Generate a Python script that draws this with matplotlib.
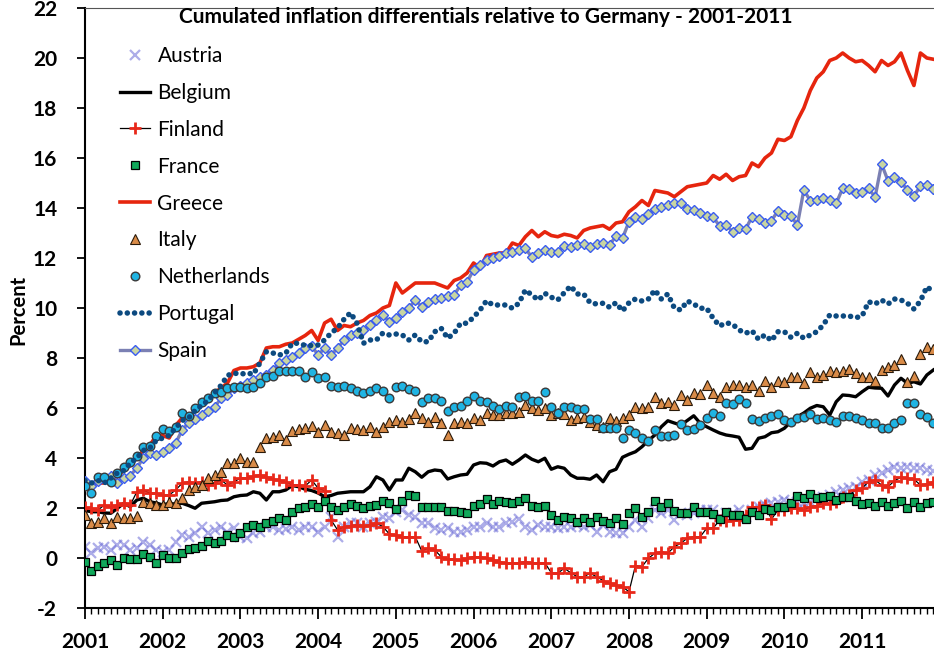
import numpy as np
import matplotlib
matplotlib.use('Agg')
import matplotlib.pyplot as plt
from matplotlib.ticker import MultipleLocator

plt.rcParams['font.family'] = ['Lato', 'DejaVu Sans']
plt.rcParams['axes.unicode_minus'] = False

# maand-index 0 = jan 2001 ... 131 = dec 2011
months = np.arange(132)
years = ['2001', '2002', '2003', '2004', '2005', '2006', '2007', '2008', '2009', '2010', '2011']

austria = [0.45, 0.19, 0.39, 0.45, 0.32, 0.52, 0.52, 0.32, 0.39, 0.65,
           0.52, 0.32, 0.25, 0.32, 0.65, 0.92, 0.85, 0.99, 1.25, 0.99,
           1.12, 1.25, 1.05, 1.19, 0.85, 0.79, 0.99, 1.05, 1.25, 1.25,
           1.12, 1.15, 1.25, 1.12, 1.25, 1.25, 1.05, 1.25, 1.65, 0.85,
           1.25, 1.39, 1.39, 1.25, 1.39, 1.45, 1.65, 1.59, 1.85, 1.92,
           1.72, 1.65, 1.39, 1.39, 1.19, 1.12, 1.19, 1.05, 1.05, 1.12,
           1.25, 1.25, 1.39, 1.25, 1.25, 1.39, 1.45, 1.55, 1.25, 1.12,
           1.32, 1.25, 1.25, 1.19, 1.25, 1.25, 1.32, 1.25, 1.32, 1.05,
           1.32, 1.05, 0.99, 0.99, 1.25, 1.52, 1.25, 1.6, 1.92, 1.79,
           1.92, 1.52, 1.79, 1.72, 1.79, 1.92, 1.92, 1.92, 1.65, 1.79,
           1.79, 1.92, 1.65, 1.92, 2.05, 2.12, 2.19, 2.25, 2.32, 2.25,
           2.25, 2.19, 2.25, 2.39, 2.45, 2.52, 2.65, 2.72, 2.79, 2.85,
           3.05, 3.12, 3.32, 3.39, 3.52, 3.65, 3.59, 3.65, 3.59, 3.59,
           3.52, 3.5]

belgium = [1.9, 1.85, 1.85, 1.8, 1.79, 1.99, 2.19, 2.05, 2.32, 2.39,
           2.25, 2.2, 2.12, 2.19, 2.15, 2.19, 2.1, 1.99, 2.19, 2.22,
           2.25, 2.3, 2.32, 2.45, 2.5, 2.52, 2.65, 2.59, 2.32, 2.65,
           2.65, 2.72, 2.9, 2.85, 2.75, 2.7, 2.6, 2.45, 2.5, 2.59,
           2.62, 2.65, 2.65, 2.65, 2.85, 3.25, 3.12, 2.72, 3.12, 3.12,
           3.59, 3.45, 3.23, 3.45, 3.52, 3.49, 3.16, 3.25, 3.32, 3.35,
           3.72, 3.81, 3.79, 3.68, 3.85, 3.92, 3.75, 3.92, 4.12, 3.95,
           3.85, 3.99, 3.55, 3.65, 3.59, 3.32, 3.19, 3.19, 3.15, 3.32,
           3.05, 3.45, 3.55, 4.03, 4.15, 4.25, 4.45, 4.7, 4.92, 5.25,
           5.49, 5.4, 5.32, 5.5, 5.69, 5.39, 5.25, 5.12, 5.0, 4.92,
           4.88, 4.83, 4.35, 4.39, 4.79, 4.85, 5.01, 5.05, 5.19, 5.45,
           5.65, 5.8, 5.99, 6.1, 6.05, 5.72, 6.25, 6.52, 6.5, 6.45,
           6.65, 6.83, 6.8, 6.79, 6.48, 6.92, 7.19, 6.99, 7.05, 6.96,
           7.32, 7.52]

finland = [2.03, 1.99, 1.92, 2.12, 2.05, 2.12, 2.19, 2.12, 2.65, 2.72,
           2.59, 2.59, 2.52, 2.52, 2.72, 2.99, 3.05, 2.99, 3.05, 2.92,
           2.99, 3.12, 2.92, 3.05, 3.19, 3.19, 3.28, 3.32, 3.25, 3.15,
           3.12, 3.05, 2.92, 2.92, 2.88, 3.12, 2.79, 2.69, 1.52, 1.12,
           1.25, 1.28, 1.32, 1.28, 1.32, 1.41, 1.25, 0.96, 0.92, 0.85,
           0.85, 0.85, 0.28, 0.39, 0.32, 0.05, -0.05, -0.05, -0.08, -0.01,
           0.05, 0.05, -0.01, -0.08, -0.15, -0.21, -0.21, -0.19, -0.15, -0.19,
           -0.19, -0.19, -0.59, -0.61, -0.41, -0.59, -0.75, -0.75, -0.61, -0.75,
           -0.9, -1.01, -1.08, -1.15, -1.35, -0.3, -0.35, -0.01, 0.19, 0.25,
           0.19, 0.45, 0.59, 0.79, 0.85, 0.85, 1.19, 1.19, 1.52, 1.5,
           1.52, 1.52, 1.72, 2.03, 2.03, 2.12, 1.55, 1.92, 1.92, 1.99,
           1.99, 1.92, 2.05, 2.09, 2.19, 2.15, 2.25, 2.43, 2.52, 2.72,
           2.79, 3.05, 3.12, 2.92, 2.85, 3.09, 3.23, 3.19, 3.15, 2.92,
           2.96, 3.05]

france = [-0.16, -0.52, -0.31, -0.19, -0.06, -0.28, -0.01, -0.05, -0.05, 0.16,
          0.05, -0.2, 0.13, -0.01, -0.01, 0.21, 0.38, 0.39, 0.48, 0.67,
          0.61, 0.67, 0.92, 0.83, 1.01, 1.25, 1.32, 1.23, 1.39, 1.49,
          1.59, 1.52, 1.85, 1.99, 2.03, 2.16, 2.05, 2.29, 2.05, 1.92,
          2.05, 2.16, 2.08, 1.99, 2.08, 2.12, 2.29, 2.19, 1.95, 2.29,
          2.52, 2.48, 2.05, 2.03, 2.05, 2.05, 1.89, 1.89, 1.85, 1.81,
          2.08, 2.16, 2.35, 2.16, 2.29, 2.25, 2.19, 2.29, 2.39, 2.08,
          2.03, 2.08, 1.72, 1.52, 1.63, 1.59, 1.45, 1.59, 1.45, 1.63,
          1.5, 1.41, 1.59, 1.36, 1.81, 1.99, 1.65, 1.85, 2.29, 2.05,
          2.19, 1.89, 1.81, 1.81, 2.05, 1.85, 1.85, 1.75, 1.55, 1.85,
          1.72, 1.72, 1.55, 1.85, 1.72, 1.95, 1.92, 2.03, 2.03, 2.19,
          2.48, 2.39, 2.56, 2.39, 2.45, 2.48, 2.32, 2.43, 2.45, 2.29,
          2.16, 2.19, 2.09, 2.25, 2.09, 2.19, 2.29, 1.99, 2.25, 2.03,
          2.19, 2.25]

greece = [3.0, 2.9, 3.0, 3.0, 3.1, 3.3, 3.5, 3.7, 4.0, 4.3,
          4.5, 4.9, 4.9, 4.8, 5.3, 5.6, 5.6, 5.9, 6.1, 6.3,
          6.6, 6.8, 7.0, 7.5, 7.6, 7.6, 7.65, 7.8, 8.4, 8.45,
          8.45, 8.55, 8.6, 8.75, 8.9, 9.1, 8.7, 9.4, 9.55, 9.1,
          9.3, 9.25, 9.4, 9.5, 9.7, 9.8, 10.0, 10.1, 11.0, 10.6,
          10.8, 11.0, 11.0, 11.0, 11.0, 10.9, 10.8, 11.1, 11.2, 11.4,
          11.8, 11.6, 12.1, 12.15, 12.2, 12.2, 12.6, 12.5, 12.85, 13.1,
          12.85, 13.05, 12.9, 12.85, 12.95, 12.9, 12.8, 13.1, 13.2, 13.25,
          13.3, 13.15, 13.4, 13.45, 13.85, 14.05, 14.3, 14.1, 14.7, 14.65,
          14.6, 14.45, 14.65, 14.85, 14.9, 14.95, 15.0, 15.3, 15.15, 15.35,
          15.1, 15.25, 15.3, 15.8, 15.65, 16.0, 16.2, 16.75, 16.7, 16.85,
          17.5, 18.0, 18.7, 19.2, 19.45, 19.9, 20.0, 20.2, 20.0, 19.85,
          19.9, 19.7, 19.45, 19.9, 19.7, 19.85, 20.2, 19.5, 18.9, 20.2,
          20.0, 19.95]

italy = [1.72, 1.41, 1.45, 1.59, 1.39, 1.65, 1.59, 1.59, 1.68, 2.25,
         2.19, 2.12, 2.12, 2.25, 2.19, 2.39, 2.72, 2.85, 2.92, 3.19,
         3.32, 3.45, 3.81, 3.81, 3.99, 3.85, 3.85, 4.45, 4.79, 4.85,
         4.92, 4.72, 5.09, 5.15, 5.19, 5.28, 5.05, 5.32, 5.03, 4.99,
         4.92, 5.19, 5.15, 5.12, 5.25, 5.03, 5.25, 5.45, 5.52, 5.45,
         5.55, 5.79, 5.59, 5.45, 5.65, 5.39, 4.92, 5.39, 5.45, 5.39,
         5.59, 5.52, 5.79, 5.72, 5.72, 5.79, 5.79, 5.85, 6.12, 5.99,
         5.92, 5.99, 5.72, 5.8, 5.75, 5.52, 5.59, 5.65, 5.45, 5.32,
         5.25, 5.59, 5.5, 5.6, 5.72, 6.05, 5.99, 6.05, 6.45, 6.19,
         6.25, 6.12, 6.52, 6.32, 6.61, 6.55, 6.92, 6.61, 6.45, 6.85,
         6.92, 6.92, 6.85, 6.92, 6.69, 7.09, 6.85, 7.09, 7.05, 7.23,
         7.23, 6.99, 7.45, 7.25, 7.32, 7.49, 7.45, 7.49, 7.55, 7.41,
         7.25, 7.25, 7.09, 7.52, 7.63, 7.72, 7.95, 7.05, 7.28, 8.16,
         8.43, 8.35]

netherlands = [2.9, 2.6, 3.25, 3.25, 3.05, 3.4, 3.65, 3.85, 4.1, 4.45,
               4.5, 4.9, 5.15, 5.1, 5.25, 5.8, 5.7, 6.0, 6.25, 6.4,
               6.6, 6.65, 6.8, 6.85, 6.85, 6.8, 6.85, 7.0, 7.25, 7.3,
               7.5, 7.5, 7.5, 7.5, 7.25, 7.45, 7.2, 7.25, 6.9, 6.85,
               6.9, 6.8, 6.7, 6.6, 6.7, 6.8, 6.7, 6.4, 6.85, 6.9,
               6.75, 6.7, 6.25, 6.4, 6.4, 6.3, 5.9, 6.05, 6.1, 6.3,
               6.5, 6.3, 6.25, 6.1, 5.95, 6.1, 6.05, 6.45, 6.5, 6.3,
               6.3, 6.65, 6.05, 5.8, 6.05, 6.05, 5.95, 5.95, 5.55, 5.55,
               5.2, 5.19, 5.19, 4.79, 5.12, 4.99, 4.79, 4.69, 5.12, 4.88,
               4.88, 4.92, 5.35, 5.12, 5.15, 5.32, 5.59, 5.81, 5.69, 6.19,
               6.15, 6.35, 6.19, 5.55, 5.49, 5.59, 5.69, 5.76, 5.52, 5.43,
               5.59, 5.63, 5.76, 5.55, 5.59, 5.52, 5.43, 5.69, 5.69, 5.59,
               5.52, 5.39, 5.39, 5.19, 5.19, 5.39, 5.52, 6.19, 6.21, 5.76,
               5.65, 5.39]

portugal = [3.1, 3.0, 3.1, 3.0, 3.2, 3.4, 3.5, 3.8, 4.0, 4.3,
            4.4, 4.7, 4.8, 4.9, 5.2, 5.5, 5.6, 5.9, 6.1, 6.3,
            6.6, 6.9, 7.3, 7.4, 7.35, 7.4, 7.35, 7.8, 8.25, 8.2,
            8.12, 8.19, 8.59, 8.59, 8.5, 8.5, 8.52, 8.72, 9.0, 9.2,
            9.55, 9.81, 9.39, 8.59, 8.72, 8.72, 9.0, 8.92, 8.96, 8.92,
            8.72, 8.92, 8.65, 8.65, 9.05, 9.19, 8.79, 8.99, 9.39, 9.39,
            9.63, 9.92, 10.29, 10.12, 10.12, 10.12, 9.99, 10.19, 10.72, 10.52,
            10.32, 10.59, 10.43, 10.32, 10.61, 10.88, 10.56, 10.56, 10.21, 10.16,
            10.19, 10.03, 10.21, 9.88, 10.21, 10.36, 10.28, 10.36, 10.72, 10.36,
            10.56, 10.0, 9.92, 10.28, 10.16, 9.99, 9.99, 9.59, 9.28, 9.41,
            9.35, 9.12, 8.99, 9.09, 8.75, 8.92, 8.69, 9.05, 9.05, 8.83,
            8.99, 8.79, 8.92, 9.05, 9.32, 9.72, 9.68, 9.68, 9.68, 9.61,
            9.68, 10.25, 10.16, 10.32, 10.16, 10.36, 10.32, 10.19, 9.96, 10.28,
            10.85, 10.65]

spain = [3.1, 2.9, 3.1, 3.2, 3.3, 3.0, 3.2, 3.3, 3.6, 4.0,
         4.19, 4.12, 4.25, 4.39, 4.59, 5.12, 5.4, 5.55, 5.72, 5.9,
         6.03, 6.39, 6.52, 6.79, 6.9, 6.99, 7.12, 7.25, 7.32, 7.52,
         7.8, 7.92, 8.05, 8.19, 8.39, 8.48, 8.12, 8.39, 8.12, 8.39,
         8.72, 8.92, 8.99, 9.12, 9.32, 9.52, 9.72, 9.45, 9.59, 9.85,
         9.99, 10.32, 10.05, 10.25, 10.35, 10.39, 10.48, 10.52, 10.92, 11.05,
         11.52, 11.72, 11.92, 11.99, 12.08, 12.19, 12.25, 12.32, 12.39, 12.03,
         12.19, 12.32, 12.25, 12.25, 12.48, 12.45, 12.52, 12.56, 12.45, 12.56,
         12.59, 12.52, 12.88, 12.79, 13.45, 13.65, 13.55, 13.76, 13.95, 14.03,
         14.12, 14.19, 14.19, 13.95, 13.92, 13.79, 13.68, 13.63, 13.28, 13.32,
         13.05, 13.19, 13.15, 13.65, 13.55, 13.41, 13.49, 13.89, 13.72, 13.68,
         13.32, 14.72, 14.29, 14.32, 14.39, 14.32, 14.19, 14.79, 14.75, 14.59,
         14.65, 14.79, 14.43, 15.76, 15.09, 15.23, 15.05, 14.72, 14.48, 14.88,
         14.92, 14.75]

for s in [austria, belgium, finland, france, greece, italy, netherlands, portugal, spain]:
    assert len(s) == 132, len(s)

fig = plt.figure(figsize=(9.34, 6.57), dpi=100)
ax = fig.add_axes([85/934, 49/657, 849/934, 600/657])

# reeksen, volgorde zoals de legenda
h_aut, = ax.plot(months, austria, ls='none', marker='x', ms=6.5, mew=1.6,
                 color='#6b6bd6', alpha=0.55, zorder=2, label='Austria')
h_bel, = ax.plot(months, belgium, color='black', lw=2.4, zorder=3, label='Belgium')
h_fin, = ax.plot(months, finland, color='black', lw=0.9, marker='+', ms=8, mew=2,
                 mec='#e8281a', zorder=4, label='Finland')
h_fra, = ax.plot(months, france, ls='none', marker='s', ms=5.2, mfc='#10a85a',
                 mec='black', mew=0.9, zorder=5, label='France')
h_gre, = ax.plot(months, greece, color='#e6250e', lw=2.6, zorder=6, label='Greece')
h_ita, = ax.plot(months, italy, ls='none', marker='^', ms=7, mfc='#d98b48',
                 mec='#2a1a0a', mew=0.8, zorder=7, label='Italy')
h_spa, = ax.plot(months, spain, color='#7b80b3', lw=2.4, marker='D', ms=5.3,
                 mfc='#c8d5a2', mec='#3a5cf0', mew=1.0, zorder=8, label='Spain')
h_ned, = ax.plot(months, netherlands, ls='none', marker='o', ms=6.2, mfc='#1fb4e3',
                 mec='#3a3a3a', mew=1.0, zorder=9, label='Netherlands')
h_por, = ax.plot(months, portugal, color='#0c4a80', lw=4.0, ls=(0, (0.01, 1.3)),
                 dash_capstyle='round', zorder=10, label='Portugal')

ax.set_xlim(0, 131.1)
ax.set_ylim(-2, 22)
ax.set_yticks(range(-2, 23, 2))
ax.set_xticks(range(0, 132, 12))
ax.set_xticklabels(years)
ax.xaxis.set_minor_locator(MultipleLocator(1))

ax.tick_params(axis='x', which='major', direction='out', length=8, width=1.3, pad=9)
ax.tick_params(axis='x', which='minor', direction='out', length=4, width=1.0)
ax.tick_params(axis='y', which='major', direction='out', length=6, width=1.3, pad=14)
for lab in ax.get_xticklabels() + ax.get_yticklabels():
    lab.set_fontsize(15)
    lab.set_fontweight('bold')

for side in ['left', 'bottom']:
    ax.spines[side].set_linewidth(1.5)
ax.spines['top'].set_linewidth(0.8)
ax.spines['top'].set_color('#555555')
ax.spines['right'].set_visible(False)

fig.text(486/934, 1 - 17/657, 'Cumulated inflation differentials relative to Germany - 2001-2011',
         ha='center', va='center', fontsize=15, fontweight='bold')
fig.text(18/934, 1 - 310/657, 'Percent', rotation=90, ha='center', va='center',
         fontsize=14.5, fontweight='bold')

handles = [h_aut, h_bel, h_fin, h_fra, h_gre, h_ita, h_ned, h_por, h_spa]
leg = ax.legend(handles, [h.get_label() for h in handles], loc='upper left',
                bbox_to_anchor=(120/934, 1 - 46/657), bbox_transform=fig.transFigure,
                frameon=False, fontsize=15, handlelength=1.45, handletextpad=0.35,
                labelspacing=0.81, borderpad=0, borderaxespad=0, numpoints=1)
leg.set_zorder(20)

fig.savefig('out.png', dpi=100)
